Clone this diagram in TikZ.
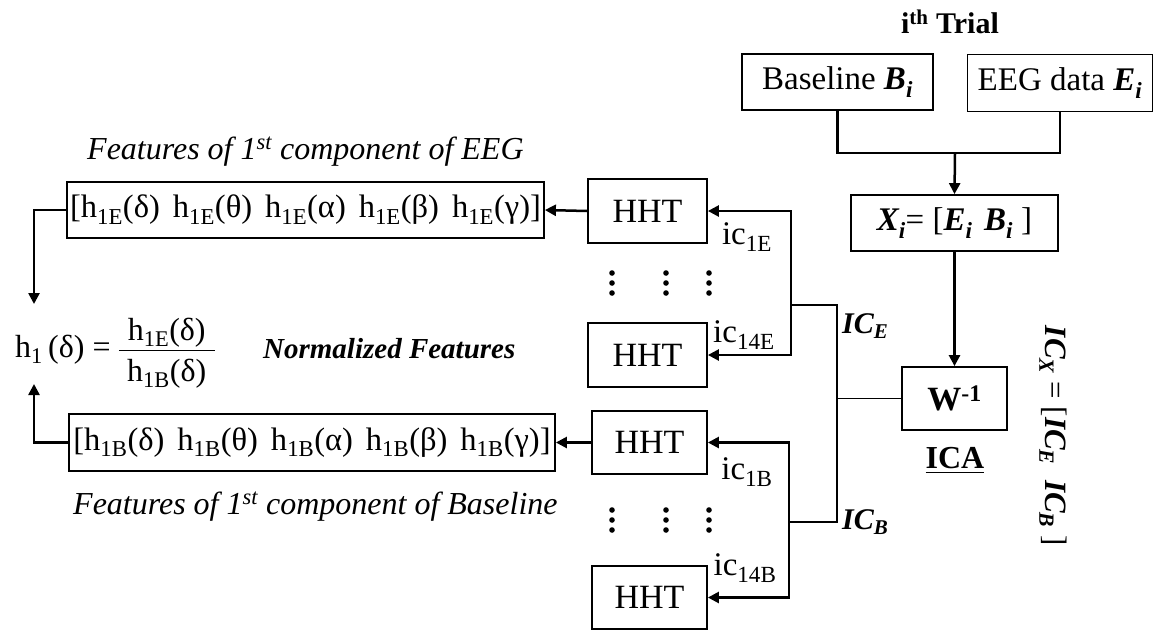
\documentclass[tikz,border=0pt]{standalone}
\usepackage{amsmath}
\usepackage{fontspec}
\setmainfont{Liberation Serif}
\usetikzlibrary{arrows.meta}

% font sizes (picture units are points, one per pixel)
\newcommand\fsHHT{\fontsize{34}{38}\selectfont}
\newcommand\fsBox{\fontsize{33}{37}\selectfont}
\newcommand\fsFeat{\fontsize{32.5}{36}\selectfont}
\newcommand\fsNote{\fontsize{32}{36}\selectfont}
\newcommand\fsLab{\fontsize{30}{34}\selectfont}
\newcommand\bi[1]{\textbf{\textit{#1}}}

\tikzset{
  blk/.style={draw, line width=1.8pt, inner sep=0pt, align=center},
  conn/.style={line width=2.5pt},
  arr/.style={conn, -{Triangle[length=11pt,width=11pt]}},
  txt/.style={inner sep=0pt, align=center},
}

\begin{document}
\begin{tikzpicture}[x=1pt,y=-1pt]
\useasboundingbox (0,0) rectangle (1155,630);

% trial inputs
\node[txt, font=\fontsize{30}{34}\selectfont\bfseries] (title) at (950,22) {i\textsuperscript{th} Trial};
\node[blk, minimum width=191pt, minimum height=56pt, font=\fsBox] (base) at (837.5,82) {Baseline \bi{B\textsubscript{i}}};
\node[blk, minimum width=185pt, minimum height=57pt, font=\fsBox] (eeg) at (1060,83) {EEG data \bi{E\textsubscript{i}}};
\node[blk, minimum width=207pt, minimum height=56pt, font=\fsBox] (xmat) at (954.5,223) {\bi{X\textsubscript{i}}= [\bi{E\textsubscript{i}}\hspace{0.35em}\bi{B\textsubscript{i}} ]};

% unmixing
\node[blk, minimum width=105pt, minimum height=63pt, font=\fsHHT] (unmix) at (954.5,398.5) {\textbf{W\textsuperscript{-1}}};
\node[txt, font=\fontsize{32}{36}\selectfont\bfseries] (ica) at (955,461) {\underline{ICA}};
\node[txt, rotate=-90, font=\fontsize{31}{35}\selectfont] (icx) at (1053,436) {\bi{IC\textsubscript{X}} = [\bi{IC\textsubscript{E}}\hspace{0.5em}\bi{IC\textsubscript{B}} ]};

% HHT blocks
\node[blk, minimum width=119pt, minimum height=64pt, font=\fsHHT] (h1) at (647.5,211) {HHT};
\node[blk, minimum width=119pt, minimum height=64pt, font=\fsHHT] (h2) at (647.5,355) {HHT};
\node[blk, minimum width=115pt, minimum height=63pt, font=\fsHHT] (h3) at (649.5,442.5) {HHT};
\node[blk, minimum width=115pt, minimum height=63pt, font=\fsHHT] (h4) at (649.5,597.5) {HHT};

% feature vectors
\node[blk, minimum width=477pt, minimum height=56pt, font=\fsFeat] (fe) at (305.5,210)
  {[h\textsubscript{1E}(δ)\hspace{0.4em}h\textsubscript{1E}(θ)\hspace{0.4em}h\textsubscript{1E}(α)\hspace{0.4em}h\textsubscript{1E}(β)\hspace{0.4em}h\textsubscript{1E}(γ)]};
\node[blk, minimum width=486pt, minimum height=57pt, font=\fsFeat] (fb) at (312,442.5)
  {[h\textsubscript{1B}(δ)\hspace{0.4em}h\textsubscript{1B}(θ)\hspace{0.4em}h\textsubscript{1B}(α)\hspace{0.4em}h\textsubscript{1B}(β)\hspace{0.4em}h\textsubscript{1B}(γ)]};
\node[txt, anchor=base west, font=\fsNote\itshape] (capE) at (87,159) {Features of 1\textsuperscript{st} component of EEG};
\node[txt, anchor=base west, font=\fsNote\itshape] (capB) at (73,514) {Features of 1\textsuperscript{st} component of Baseline};

% normalized feature
\node[txt, anchor=base west, font=\fontsize{32}{36}\selectfont] (norm) at (15,357)
  {h\textsubscript{1}\,(δ) =\hspace{7pt}$\displaystyle\frac{\hspace{9pt}\text{h\textsubscript{1E}(δ)}\rule[-6pt]{0pt}{6pt}\hspace{9pt}}{\rule{0pt}{27pt}\text{h\textsubscript{1B}(δ)}}$};
\node[txt, anchor=base west, font=\fontsize{29}{32}\selectfont\bfseries\itshape] (nlab) at (263,358) {Normalized Features};

% component labels
\node[txt, font=\fsBox] (l1e) at (747,237) {ic\textsubscript{1E}};
\node[txt, font=\fsBox] (l14e) at (744,335) {ic\textsubscript{14E}};
\node[txt, font=\fsBox] (l1b) at (747,472) {ic\textsubscript{1B}};
\node[txt, font=\fsBox] (l14b) at (745,568) {ic\textsubscript{14B}};
\node[txt, anchor=west, font=\fsLab] (lice) at (842,326) {\bi{IC\textsubscript{E}}};
\node[txt, anchor=west, font=\fsLab] (licb) at (842,522) {\bi{IC\textsubscript{B}}};

% junction points
\coordinate (merge) at (955,153);
\coordinate (busT) at (837,305);
\coordinate (busB) at (837,522);
\coordinate (busM) at (837,398.5);
\coordinate (spE) at (791,305);
\coordinate (spB) at (789,522);
\coordinate (tipE) at (34,304);
\coordinate (tipB) at (34,384);

% connectors
\draw[conn] (base.south) |- (merge) -| (eeg.south);
\draw[arr] (merge) -- (xmat.north);
\draw[arr] (xmat.south) -- (unmix.north);
\draw[line width=1.6pt] (unmix.west) -- (busM);
\draw[conn] (spE) -- (busT) -- (busB) -- (spB);
\draw[arr] (spE) |- (h1.east);
\draw[arr] (spE) |- (h2.east);
\draw[arr] (spB) |- (h3.east);
\draw[arr] (spB) |- (h4.east);
\draw[arr] (h1.west) -- (fe.east);
\draw[arr] (h3.west) -- (fb.east);
\draw[arr] (fe.west) -| (tipE);
\draw[arr] (fb.west) -| (tipB);

% ellipsis dots between HHT blocks
\foreach \x in {612,666,709}{
  \foreach \y in {283,520}{
    \foreach \d in {-10,0,10}{
      \fill (\x,\y+\d) circle (2.8pt);
    }
  }
}
\end{tikzpicture}
\end{document}
